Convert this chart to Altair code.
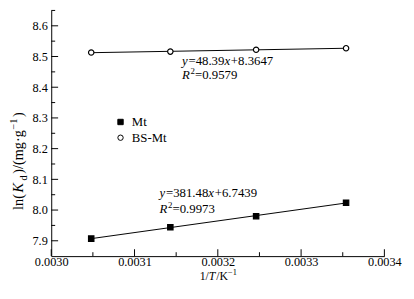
import altair as alt
import pandas as pd

# ---- data ----
inv_T = [0.003048, 0.003143, 0.003246, 0.003354]
ln_kd_mt = [7.907, 7.944, 7.980, 8.024]
ln_kd_bs = [8.513, 8.516, 8.522, 8.527]
series_names = ["Mt", "BS-Mt"]

x_major = [0.0030, 0.0031, 0.0032, 0.0033, 0.0034]
x_minor = [0.00305, 0.00315, 0.00325, 0.00335]
y_major = [7.9, 8.0, 8.1, 8.2, 8.3, 8.4, 8.5, 8.6]
y_minor = [7.95, 8.05, 8.15, 8.25, 8.35, 8.45, 8.55, 8.65]

eq_bs = ["y", "=48.39", "x", "+8.3647"]
r2_bs = ["R", "2", "=0.9579"]
eq_mt = ["y", "=381.48", "x", "+6.7439"]
r2_mt = ["R", "2", "=0.9973"]
x_title = ["1/", "T", "/K", "\u22121"]
y_title = ["ln(", "K", "d", ")/(mg\u00b7g", "\u22121", ")"]

# annotation anchors (data coordinates)
bs_anchor = (0.003157, 8.471, 8.427)
mt_anchor = (0.003130, 8.041, 7.990)

FONT = "Liberation Serif"
W, H = 339, 250

xs = alt.Scale(domain=[0.0030, 0.0034], nice=False, zero=False)
ys = alt.Scale(domain=[7.85, 8.65], nice=False, zero=False)

xaxis = alt.Axis(values=x_major, format=".4f", ticks=False, grid=False,
                 domainColor="black", domainWidth=1, labelFont=FONT,
                 labelFontSize=12.5, labelColor="black", labelPadding=0,
                 labelFlush=False, title=None)
yaxis = alt.Axis(values=y_major, format=".1f", ticks=False, grid=False,
                 domainColor="black", domainWidth=1, labelFont=FONT,
                 labelFontSize=12.5, labelColor="black", labelPadding=4,
                 title=None)

WID = {"0": .5, "1": .5, "2": .5, "3": .5, "4": .5, "5": .5, "6": .5, "7": .5,
       "8": .5, "9": .5, ".": .25, "=": .564, "+": .564, "/": .278, "(": .333,
       ")": .333, "l": .278, "n": .5, "m": .778, "g": .5, "\u00b7": .25,
       "K": .722, "d": .5, "y": .444, "x": .444, "R": .611, "T": .556,
       "\u2212": .564}
IT = {"K": .667, "y": .444, "x": .444, "R": .611, "T": .556}


def twidth(s, italic, size):
    if italic:
        return sum(IT.get(c, WID.get(c, .5)) for c in s) * size + 0.8
    return sum(WID.get(c, .5) for c in s) * size


def rich(parts, xe, ye, angle=0, extra=0.0):
    layers = []
    off = 0.0
    for text, italic, size, dy in parts:
        m = alt.Chart(pd.DataFrame({"t": [text]})).mark_text(
            align="left", baseline="alphabetic", font=FONT, fontSize=size,
            fontStyle="italic" if italic else "normal", dx=off, dy=dy,
            angle=angle, color="black"
        ).encode(x=xe, y=ye, text="t:N")
        layers.append(m)
        off += twidth(text, italic, size) + extra
    return layers


def anno(parts, xv, yv):
    layers = []
    off = 0.0
    for text, italic, size, dy in parts:
        df = pd.DataFrame({"t": [text], "x": [xv], "y": [yv]})
        m = alt.Chart(df).mark_text(
            align="left", baseline="alphabetic", font=FONT, fontSize=size,
            fontStyle="italic" if italic else "normal", dx=off, dy=dy,
            color="black"
        ).encode(x=alt.X("x:Q", scale=xs, axis=xaxis),
                 y=alt.Y("y:Q", scale=ys, axis=yaxis), text="t:N")
        layers.append(m)
        off += twidth(text, italic, size)
    return layers


pts = pd.DataFrame({
    "x": inv_T + inv_T,
    "y": ln_kd_mt + ln_kd_bs,
    "series": [series_names[0]] * 4 + [series_names[1]] * 4,
})

leg = alt.Legend(title=None, orient="none", legendX=64, legendY=107,
                 labelFont=FONT, labelFontSize=13, labelColor="black",
                 symbolSize=30, symbolStrokeColor="black", symbolStrokeWidth=1,
                 rowPadding=2, labelOffset=5, padding=0)

base = alt.Chart(pts)

lines = base.transform_regression("x", "y", groupby=["series"]).mark_line(
    color="black", strokeWidth=1
).encode(
    x=alt.X("x:Q", scale=xs, axis=xaxis),
    y=alt.Y("y:Q", scale=ys, axis=yaxis),
    detail="series:N",
)

points = base.mark_point(filled=True, size=30, strokeWidth=1.2,
                         opacity=1).encode(
    x=alt.X("x:Q", scale=xs, axis=xaxis),
    y=alt.Y("y:Q", scale=ys, axis=yaxis),
    shape=alt.Shape("series:N", scale=alt.Scale(domain=series_names,
                    range=["square", "circle"]), legend=leg),
    fill=alt.Fill("series:N", scale=alt.Scale(domain=series_names,
                  range=["black", "white"]), legend=leg),
    stroke=alt.Stroke("series:N", scale=alt.Scale(domain=series_names,
                      range=["black", "black"]), legend=leg),
)

# inward tick marks
xt_major = alt.Chart(pd.DataFrame({"x": x_major})).mark_rule(
    color="black", strokeWidth=1).encode(
    x=alt.X("x:Q", scale=xs, axis=xaxis), y=alt.value(H), y2=alt.value(H - 7))
xt_minor = alt.Chart(pd.DataFrame({"x": x_minor})).mark_rule(
    color="black", strokeWidth=1).encode(
    x=alt.X("x:Q", scale=xs, axis=xaxis), y=alt.value(H), y2=alt.value(H - 4))
yt_major = alt.Chart(pd.DataFrame({"y": y_major})).mark_rule(
    color="black", strokeWidth=1).encode(
    y=alt.Y("y:Q", scale=ys, axis=yaxis), x=alt.value(0), x2=alt.value(7))
yt_minor = alt.Chart(pd.DataFrame({"y": y_minor})).mark_rule(
    color="black", strokeWidth=1).encode(
    y=alt.Y("y:Q", scale=ys, axis=yaxis), x=alt.value(0), x2=alt.value(4))

FS = 13
SUP = 9
annos = []
annos += anno([(eq_bs[0], True, FS, 0), (eq_bs[1], False, FS, 0),
               (eq_bs[2], True, FS, 0), (eq_bs[3], False, FS, 0)],
              bs_anchor[0], bs_anchor[1])
annos += anno([(r2_bs[0], True, FS, 0), (r2_bs[1], False, SUP, -5),
               (r2_bs[2], False, FS, 0)], bs_anchor[0], bs_anchor[2])
annos += anno([(eq_mt[0], True, FS, 0), (eq_mt[1], False, FS, 0),
               (eq_mt[2], True, FS, 0), (eq_mt[3], False, FS, 0)],
              mt_anchor[0], mt_anchor[1])
annos += anno([(r2_mt[0], True, FS, 0), (r2_mt[1], False, SUP, -5),
               (r2_mt[2], False, FS, 0)], mt_anchor[0], mt_anchor[2])

TF = 12
titles = []
titles += rich([(x_title[0], False, TF, 0), (x_title[1], True, TF, 0),
                (x_title[2], False, TF, 0), (x_title[3], False, 8.5, -5)],
               alt.value(151), alt.value(274))
titles += rich([(y_title[0], False, 14.5, 0), (y_title[1], True, 14.5, 0),
                (y_title[2], False, 10.5, 4), (y_title[3], False, 14.5, 0),
                (y_title[4], False, 10.5, -6), (y_title[5], False, 14.5, 0)],
               alt.value(-29), alt.value(203), angle=270, extra=1.7)

chart = alt.layer(
    lines, points, xt_major, xt_minor, yt_major, yt_minor, *annos, *titles
).properties(
    width=W, height=H,
    autosize=alt.AutoSizeParams(type="none"),
    padding={"left": 44, "top": 0, "right": 22, "bottom": 33},
    background="white",
).configure_view(stroke=None)

chart.save("out.html", embed_options={"renderer": "svg", "actions": False})
